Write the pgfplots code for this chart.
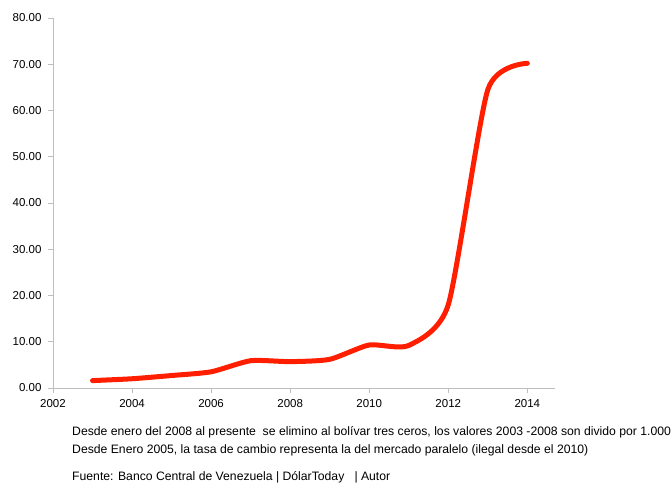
\documentclass[border=0pt]{standalone}
\usepackage{pgfplots}
\pgfplotsset{compat=1.18}
\usepackage{fontspec}
\setmainfont{Liberation Sans}
\definecolor{linered}{RGB}{255,30,0}
\definecolor{axgray}{RGB}{190,190,190}
\begin{document}
\begin{tikzpicture}
\begin{axis}[
  at={(0,0)}, anchor=south west,
  scale only axis, width=502pt, height=370pt,
  xmin=2002, xmax=2014.7, ymin=0, ymax=80,
  axis x line=bottom, axis y line=left,
  axis line style={axgray, line width=0.8pt, -},
  xtick={2002,2004,...,2014},
  ytick={0,10,...,80},
  tick align=outside,
  major tick length=5pt,
  tick style={axgray, line width=0.8pt},
  x tick label style={font=\fontsize{11.5}{13}\selectfont, yshift=-3pt},
  y tick label style={font=\fontsize{11.5}{13}\selectfont, xshift=-3pt},
  /pgf/number format/assume math mode=true,
  xticklabel={\pgfmathprintnumber[1000 sep={},fixed,precision=0]{\tick}},
  yticklabel={\pgfmathprintnumber[fixed,fixed zerofill,precision=2]{\tick}},
  clip=false,
]
\addplot[linered, line width=5pt, smooth, tension=0.38, line cap=round] coordinates {
(2003,1.6) (2004,2.0) (2005,2.7) (2006,3.5) (2007,5.9) (2008,5.7) (2009,6.2)
(2010,9.3) (2011,9.2) (2012,18.0) (2013,64.5) (2014,70.2)
};
\end{axis}
\node[anchor=west, inner sep=0pt, font=\fontsize{12.2}{14}\selectfont] at (19pt,-44pt) {Desde enero del 2008 al presente\ \ se elimino al bolívar tres ceros, los valores 2003 -2008 son divido por 1.000};
\node[anchor=west, inner sep=0pt, font=\fontsize{12.2}{14}\selectfont] at (19pt,-62pt) {Desde Enero 2005, la tasa de cambio representa la del mercado paralelo (ilegal desde el 2010)};
\node[anchor=west, inner sep=0pt, font=\fontsize{12.2}{14}\selectfont] at (19pt,-89pt) {Fuente: Banco Central de Venezuela | DólarToday\ \ \ | Autor};
\pgfresetboundingbox
\useasboundingbox (-53pt,-95pt) rectangle (619pt,388pt);
\end{tikzpicture}
\end{document}
